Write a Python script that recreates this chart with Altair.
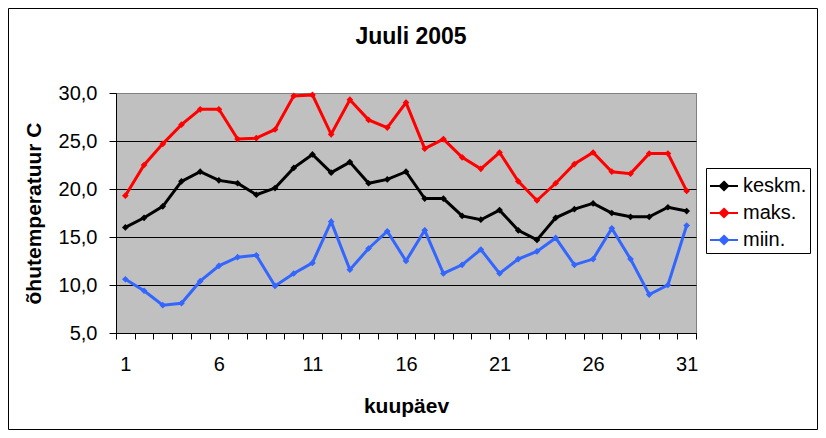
import altair as alt
import pandas as pd

days = list(range(1, 32))
keskm = [16.0, 17.0, 18.2, 20.8, 21.8, 20.9, 20.6, 19.4, 20.1, 22.2, 23.6, 21.7, 22.8, 20.6, 21.0, 21.8,
         19.0, 19.0, 17.2, 16.8, 17.8, 15.7, 14.7, 17.0, 17.9, 18.5, 17.5, 17.1, 17.1, 18.1, 17.7]
maks = [19.3, 22.5, 24.7, 26.7, 28.3, 28.3, 25.2, 25.3, 26.2, 29.7, 29.8, 25.7, 29.3, 27.2, 26.4, 29.0,
        24.2, 25.2, 23.3, 22.1, 23.8, 20.8, 18.8, 20.6, 22.6, 23.8, 21.8, 21.6, 23.7, 23.7, 19.8]
miin = [10.6, 9.4, 7.9, 8.1, 10.4, 12.0, 12.9, 13.1, 9.9, 11.2, 12.3, 16.6, 11.6, 13.8, 15.6, 12.5,
        15.7, 11.2, 12.1, 13.7, 11.2, 12.7, 13.5, 14.9, 12.1, 12.7, 15.9, 12.7, 9.0, 10.0, 16.2]
series_names = ["keskm.", "maks.", "miin."]
series_colors = ["#000000", "#FF0000", "#3366FF"]
y_ticks = [5, 10, 15, 20, 25, 30]

rows = []
for name, vals in zip(series_names, [keskm, maks, miin]):
    for d, v in zip(days, vals):
        rows.append({"day": d, "value": v, "series": name})
df = pd.DataFrame(rows)

W, H = 580, 240
FONT = "Liberation Sans"

x_edges = [i + 0.5 for i in range(0, 32)]

lines = alt.Chart(df).mark_line(
    strokeWidth=3,
    point=alt.OverlayMarkDef(shape="diamond", size=45, filled=True),
).encode(
    x=alt.X(
        "day:Q",
        scale=alt.Scale(domain=[0.5, 31.5], nice=False, zero=False),
        axis=alt.Axis(
            values=x_edges,
            labelExpr="(datum.value - 0.5) % 5 == 0 && datum.value < 31 ? format(datum.value + 0.5, 'd') : ''",
            labelOffset=W / 31 / 2,
            labelFlush=False,
            labelOverlap=False,
            labelBound=False,
            labelAngle=0,
            labelBaseline="top",
            labelPadding=15,
            labelFontSize=20,
            labelFont=FONT,
            labelColor="black",
            grid=False,
            domainColor="black",
            domainWidth=1,
            tickColor="black",
            tickSize=6,
            title="kuupäev",
            titleFont=FONT,
            titleFontSize=21,
            titleFontWeight="bold",
            titleColor="black",
            titleBaseline="alphabetic",
            titleY=79,
        ),
    ),
    y=alt.Y(
        "value:Q",
        scale=alt.Scale(domain=[5, 30], nice=False, zero=False),
        axis=alt.Axis(
            values=y_ticks,
            labelExpr="replace(format(datum.value, '.1f'), '.', ',')",
            labelFontSize=20,
            labelFont=FONT,
            labelColor="black",
            labelPadding=12,
            labelFlush=False,
            labelOverlap=False,
            grid=True,
            gridColor=alt.condition("datum.value == 30", alt.value("#808080"), alt.value("black")),
            gridWidth=1,
            domainColor="black",
            tickColor="black",
            tickSize=7,
            title="õhutemperatuur C",
            titleFont=FONT,
            titleFontSize=21,
            titleFontWeight="bold",
            titleColor="black",
            titleAngle=270,
            titleBaseline="alphabetic",
            titleX=-76,
            titleY=120,
        ),
    ),
    color=alt.Color(
        "series:N",
        scale=alt.Scale(domain=series_names, range=series_colors),
        sort=series_names,
        legend=alt.Legend(
            title=None,
            orient="none",
            legendX=590,
            legendY=75,
            symbolType="M-1,0L1,0M0,-0.3L0.3,0L0,0.3L-0.3,0Z",
            symbolSize=784,
            symbolStrokeWidth=2,
            labelFontSize=20,
            labelFont=FONT,
            labelColor="black",
            labelOffset=4,
            strokeColor="black",
            fillColor="white",
            padding=3,
            rowPadding=2,
        ),
    ),
)

border = alt.Chart(alt.Data(values=[{"a": 1}])).mark_rect(
    filled=False, stroke="black", strokeWidth=1
).encode(
    x=alt.value(-107.5), x2=alt.value(701.5), y=alt.value(-84.5), y2=alt.value(336.5)
)

chart = alt.layer(border, lines).properties(
    width=W,
    height=H,
    padding={"left": 108, "top": 85, "right": 122, "bottom": 97},
    autosize=alt.AutoSizeParams(type="none"),
    title=alt.TitleParams(
        "Juuli 2005", font=FONT, fontSize=23, fontWeight="bold", color="black",
        anchor="middle", frame="group", offset=-59, dx=5, baseline="alphabetic",
    ),
    background="white",
).configure_view(
    fill="#C0C0C0", stroke="#808080", strokeWidth=1
)

chart.save("out.html", embed_options={"renderer": "svg", "actions": False})
